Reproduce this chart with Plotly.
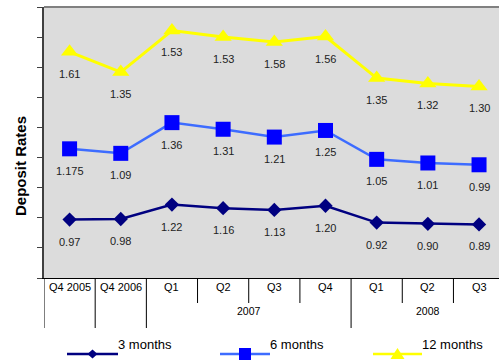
import numpy as np
import plotly.graph_objects as go

# Quarter categories (unique keys) and the labels shown on the two axis rows
categories = ["Q4 2005", "Q4 2006", "Q1 2007", "Q2 2007", "Q3 2007", "Q4 2007",
              "Q1 2008", "Q2 2008", "Q3 2008"]
quarter_labels = ["Q4 2005", "Q4 2006", "Q1", "Q2", "Q3", "Q4", "Q1", "Q2", "Q3"]
year_labels = ["2007", "2008"]

# Deposit rates by term (stacked lines)
rates_3m = [0.97, 0.98, 1.22, 1.16, 1.13, 1.20, 0.92, 0.90, 0.89]
rates_6m = [1.175, 1.09, 1.36, 1.31, 1.21, 1.25, 1.05, 1.01, 0.99]
rates_12m = [1.61, 1.35, 1.53, 1.53, 1.58, 1.56, 1.35, 1.32, 1.30]
value_text_3m = ["0.97", "0.98", "1.22", "1.16", "1.13", "1.20", "0.92", "0.90", "0.89"]
value_text_6m = ["1.175", "1.09", "1.36", "1.31", "1.21", "1.25", "1.05", "1.01", "0.99"]
value_text_12m = ["1.61", "1.35", "1.53", "1.53", "1.58", "1.56", "1.35", "1.32", "1.30"]

series_names = ["3 months", "6 months", "12 months"]

W, H = 499, 362
L, R, T, B = 44, 0, 7, 84
PW, PH = W - L - R, H - T - B


def px_x(px):
    return (px - L) / PW


def px_y(py):
    return (H - B - py) / PH


FONT = "Liberation Sans, Arial, sans-serif"

stack = np.cumsum(np.array([rates_3m, rates_6m, rates_12m]), axis=0)

styles = [
    dict(line=dict(color="#000080", width=2.5),
         marker=dict(symbol="diamond", size=11, color="#000080")),
    dict(line=dict(color="#3d6cff", width=2.5),
         marker=dict(symbol="square", size=15, color="#0000ff")),
    dict(line=dict(color="#ffff00", width=3),
         marker=dict(symbol="triangle-up", size=15, color="#ffff00")),
]
texts = [value_text_3m, value_text_6m, value_text_12m]

fig = go.Figure()
for i, name in enumerate(series_names):
    fig.add_trace(go.Scatter(
        x=categories, y=stack[i], name=name, mode="lines+markers",
        hoverinfo="skip", showlegend=False, **styles[i]))

annotations = []
# value labels under each point
for i in range(3):
    for c, yv, t in zip(categories, stack[i], texts[i]):
        annotations.append(dict(
            x=c, y=yv, xref="x", yref="y", text=t, showarrow=False,
            yshift=-22, font=dict(family=FONT, size=11, color="#222222")))

# category table under the plot
row1_y = px_y(295)
row2_y = px_y(319)
for i, lab in enumerate(quarter_labels):
    annotations.append(dict(
        x=i, y=row1_y, xref="x", yref="paper", text=lab, showarrow=False,
        font=dict(family=FONT, size=11, color="#000000")))
for xc, lab in zip([3.5, 7.0], year_labels):
    annotations.append(dict(
        x=xc, y=row2_y, xref="x", yref="paper", text=lab, showarrow=False,
        font=dict(family=FONT, size=10.5, color="#000000")))

# y-axis title
annotations.append(dict(
    x=px_x(20), y=px_y(166), xref="paper", yref="paper", text="<b>Deposit Rates</b>",
    textangle=-90, showarrow=False, xanchor="center", yanchor="middle",
    font=dict(family=FONT, size=15, color="#000000")))

shapes = []
# table dividers: full-height at group edges, short between quarters
for xb in [-0.5, 0.5, 1.5, 5.5, 8.5]:
    shapes.append(dict(type="line", xref="x", yref="paper", x0=xb, x1=xb,
                       y0=0, y1=px_y(328), line=dict(color="#000000", width=1)))
for xb in [2.5, 3.5, 4.5, 6.5, 7.5]:
    shapes.append(dict(type="line", xref="x", yref="paper", x0=xb, x1=xb,
                       y0=0, y1=px_y(303), line=dict(color="#000000", width=1)))
# top border of the plot area
shapes.append(dict(type="line", xref="paper", yref="paper", x0=0, x1=1, y0=1, y1=1,
                   line=dict(color="#808080", width=2)))

# legend row
leg_py = 354
leg_y = px_y(leg_py)
legend_items = [
    (67, 118, "#000080", "diamond", "#000080"),
    (220, 270, "#3d6cff", "square", "#0000ff"),
    (373, 422, "#ffff00", "triangle", "#ffff00"),
]
for (x0, x1, lc, sym, mc), name in zip(legend_items, series_names):
    shapes.append(dict(type="line", xref="paper", yref="paper",
                       x0=px_x(x0), x1=px_x(x1), y0=leg_y, y1=leg_y,
                       line=dict(color=lc, width=2.5)))
    cx = (x0 + x1) / 2
    cy = leg_py
    if sym == "diamond":
        pts = [(cx, cy - 4.5), (cx + 5, cy), (cx, cy + 4.5), (cx - 5, cy)]
    elif sym == "square":
        pts = [(cx - 6, cy - 6), (cx + 6, cy - 6), (cx + 6, cy + 6), (cx - 6, cy + 6)]
    else:
        pts = [(cx, cy - 6), (cx + 7, cy + 5), (cx - 7, cy + 5)]
    path = "M " + " L ".join(f"{px_x(a):.5f},{px_y(b):.5f}" for a, b in pts) + " Z"
    shapes.append(dict(type="path", xref="paper", yref="paper", path=path,
                       fillcolor=mc, line=dict(color=mc, width=0)))
    annotations.append(dict(
        x=px_x(x1 - 2), y=leg_y, xref="paper", yref="paper", text=name,
        xanchor="left", showarrow=False,
        font=dict(family=FONT, size=13, color="#000000")))

fig.update_layout(
    width=W, height=H,
    margin=dict(l=L, r=R, t=T, b=B),
    paper_bgcolor="#ffffff",
    plot_bgcolor="#dcdcdc",
    showlegend=False,
    xaxis=dict(type="category", range=[-0.5, 8.39], showticklabels=False,
               showgrid=False, zeroline=False, showline=True,
               linecolor="#000000", linewidth=1, ticks=""),
    yaxis=dict(range=[0, 4.5], dtick=0.5, tick0=0, showticklabels=False,
               showgrid=False, zeroline=False, showline=True,
               linecolor="#404040", linewidth=2, ticks="outside", ticklen=5,
               tickcolor="#404040", tickwidth=1),
    shapes=shapes,
    annotations=annotations,
)

fig.write_html("out.html")
